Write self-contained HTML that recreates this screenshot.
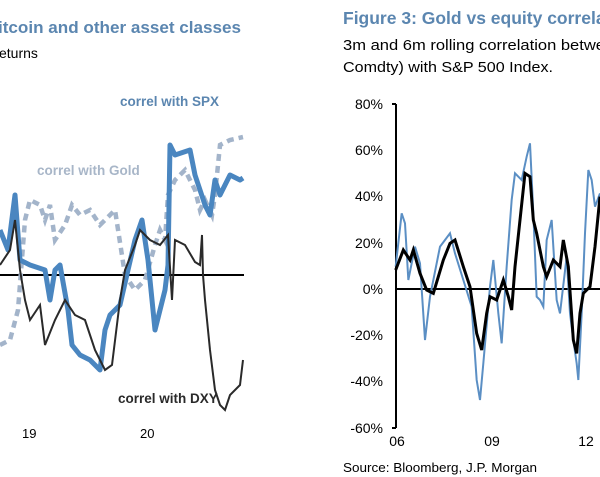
<!DOCTYPE html>
<html><head><meta charset="utf-8"><style>
html,body{margin:0;padding:0;background:#fff;}
body{width:600px;height:477px;overflow:hidden;position:relative;font-family:"Liberation Sans",Arial,sans-serif;}
</style></head><body>
<svg width="600" height="477" viewBox="0 0 600 477" xmlns="http://www.w3.org/2000/svg" style="position:absolute;left:0;top:0">
<g font-family="Liberation Sans, Arial, sans-serif">
<text x="-2" y="33" font-size="17" font-weight="bold" fill="#5b86b0" textLength="243" lengthAdjust="spacingAndGlyphs">itcoin and other asset classes</text>
<text x="-1" y="58" font-size="14" fill="#000">eturns</text>
<text x="120" y="106" font-size="13.5" font-weight="bold" fill="#5b86b0">correl with SPX</text>
<text x="37" y="175" font-size="13.5" font-weight="bold" fill="#a8b6c8">correl with Gold</text>
<text x="118" y="403" font-size="13.5" font-weight="bold" fill="#2a2a2a">correl with DXY</text>
<text x="22" y="438" font-size="13" fill="#000">19</text>
<text x="140" y="438" font-size="13" fill="#000">20</text>
<line x1="0" y1="275" x2="244" y2="275" stroke="#000" stroke-width="2"/>
<polyline fill="none" stroke="#a3b4ca" stroke-width="4.5" stroke-dasharray="7,5" points="0,345 10,340 18,310 25,220 30,200 40,205 45,220 50,205 55,240 65,225 72,205 80,215 90,210 100,225 115,210 125,275 135,290 145,280 155,245 160,230 165,240 168,195 175,180 185,170 195,190 200,210 205,200 212,215 215,195 220,145 230,140 243,137"/>
<polyline fill="none" stroke="#4a86c0" stroke-width="5" stroke-linejoin="round" points="0,230 8,250 15,195 20,260 30,265 45,270 50,300 55,270 60,265 68,310 72,345 80,355 90,360 100,370 105,330 110,315 120,305 128,270 135,240 142,220 148,260 155,330 160,310 165,290 168,265 170,145 175,155 190,150 195,175 200,190 205,205 210,215 215,180 220,195 230,175 240,180 243,178"/>
<polyline fill="none" stroke="#2a2a2a" stroke-width="2" points="0,265 10,250 15,220 20,270 25,300 30,320 40,305 45,345 55,320 65,300 75,315 85,320 95,350 105,370 112,365 120,300 125,270 135,245 140,230 150,240 160,245 168,235 172,300 175,240 185,245 195,262 200,265 202,235 203,275 205,300 210,350 215,390 220,405 225,410 230,395 240,385 243,360"/>

<text x="343" y="24" font-size="17.5" font-weight="bold" fill="#5b86b0">Figure 3: Gold vs equity correla</text>
<text x="343" y="50" font-size="14.5" fill="#000" textLength="262" lengthAdjust="spacingAndGlyphs">3m and 6m rolling correlation betwe</text>
<text x="343" y="72" font-size="14.5" fill="#000" textLength="210" lengthAdjust="spacingAndGlyphs">Comdty) with S&amp;P 500 Index.</text>
<g font-size="14" fill="#000" text-anchor="end">
<text x="383" y="109">80%</text><text x="383" y="155">60%</text><text x="383" y="201">40%</text><text x="383" y="248">20%</text><text x="383" y="294">0%</text><text x="383" y="340">-20%</text><text x="383" y="386">-40%</text><text x="383" y="433">-60%</text>
</g>
<g font-size="14" fill="#000" text-anchor="middle">
<text x="397" y="446">06</text><text x="492" y="446">09</text><text x="586" y="446">12</text>
</g>
<text x="343" y="472" font-size="12.5" fill="#000" textLength="194" lengthAdjust="spacingAndGlyphs">Source: Bloomberg, J.P. Morgan</text>
<line x1="396" y1="104" x2="396" y2="428" stroke="#000" stroke-width="2"/>
<line x1="392" y1="104" x2="396" y2="104" stroke="#000" stroke-width="2"/>
<line x1="392" y1="428" x2="396" y2="428" stroke="#000" stroke-width="2"/>
<line x1="396" y1="289" x2="600" y2="289" stroke="#000" stroke-width="2"/>
<g transform="translate(330,80) scale(0.33333)">
<polyline fill="none" stroke="#5b8fc4" stroke-width="2" vector-effect="non-scaling-stroke" points="197,560 215,400 225,430 235,600 255,500 270,550 285,780 300,650 330,500 345,480 360,460 375,520 400,600 425,680 440,900 450,960 460,850 480,620 490,540 505,700 515,790 530,560 545,360 555,280 575,300 590,230 600,190 610,400 620,650 630,660 640,680 650,480 665,420 680,660 690,700 710,530 720,700 730,780 740,850 745,900 755,700 765,460 775,270 785,300 795,380 810,340"/>
<polyline fill="none" stroke="#000" stroke-width="3" vector-effect="non-scaling-stroke" points="197,570 220,510 240,540 250,510 270,580 290,630 310,640 340,540 360,490 375,480 400,560 420,620 440,760 455,810 470,700 480,650 500,660 520,600 535,650 545,690 555,560 570,420 585,280 600,290 610,420 620,460 640,560 650,590 670,540 690,560 700,480 715,560 730,780 740,820 750,700 760,640 780,620 795,500 810,350"/>
</g>
</g>
</svg>
</body></html>
